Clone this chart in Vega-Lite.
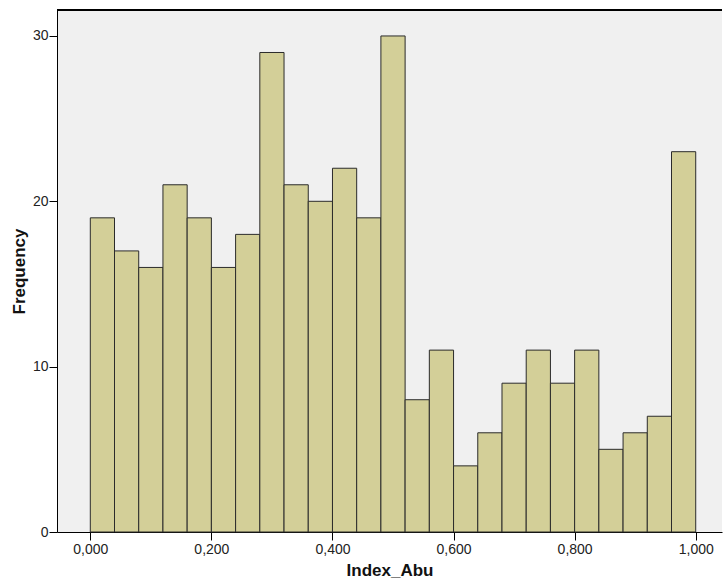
{
  "$schema": "https://vega.github.io/schema/vega-lite/v6.json",
  "autosize": {"type": "none"},
  "width": 665,
  "height": 522,
  "padding": {"left": 57, "top": 10, "right": 2, "bottom": 54},
  "background": "white",
  "config": {
    "view": {"stroke": null, "fill": "#F0F0F0"},
    "font": "Liberation Sans",
    "axis": {
      "labelFont": "Liberation Sans",
      "labelFontSize": 14,
      "labelColor": "#222222",
      "titleFont": "Liberation Sans",
      "titleFontSize": 17,
      "titleFontWeight": "bold",
      "titleColor": "#111111",
      "domainColor": "#000000",
      "tickColor": "#000000",
      "tickSize": 8,
      "grid": false
    }
  },
  "data": {
    "values": [
      {"start": 0.00, "end": 0.04, "count": 19},
      {"start": 0.04, "end": 0.08, "count": 17},
      {"start": 0.08, "end": 0.12, "count": 16},
      {"start": 0.12, "end": 0.16, "count": 21},
      {"start": 0.16, "end": 0.20, "count": 19},
      {"start": 0.20, "end": 0.24, "count": 16},
      {"start": 0.24, "end": 0.28, "count": 18},
      {"start": 0.28, "end": 0.32, "count": 29},
      {"start": 0.32, "end": 0.36, "count": 21},
      {"start": 0.36, "end": 0.40, "count": 20},
      {"start": 0.40, "end": 0.44, "count": 22},
      {"start": 0.44, "end": 0.48, "count": 19},
      {"start": 0.48, "end": 0.52, "count": 30},
      {"start": 0.52, "end": 0.56, "count": 8},
      {"start": 0.56, "end": 0.60, "count": 11},
      {"start": 0.60, "end": 0.64, "count": 4},
      {"start": 0.64, "end": 0.68, "count": 6},
      {"start": 0.68, "end": 0.72, "count": 9},
      {"start": 0.72, "end": 0.76, "count": 11},
      {"start": 0.76, "end": 0.80, "count": 9},
      {"start": 0.80, "end": 0.84, "count": 11},
      {"start": 0.84, "end": 0.88, "count": 5},
      {"start": 0.88, "end": 0.92, "count": 6},
      {"start": 0.92, "end": 0.96, "count": 7},
      {"start": 0.96, "end": 1.00, "count": 23}
    ]
  },
  "layer": [
    {
      "mark": {"type": "bar", "fill": "#D3CF98", "stroke": "#2b2b2b", "strokeWidth": 1},
      "encoding": {
        "x": {
          "field": "start", "type": "quantitative",
          "scale": {"domain": [-0.055, 1.0434], "nice": false, "zero": false},
          "axis": {
            "title": "Index_Abu",
            "values": [0, 0.2, 0.4, 0.6, 0.8, 1.0],
            "labelExpr": "replace(format(datum.value, '.3f'), '.', ',')",
            "labelPadding": 2,
            "titlePadding": 6
          }
        },
        "x2": {"field": "end"},
        "y": {
          "field": "count", "type": "quantitative",
          "scale": {"domain": [0, 31.57], "nice": false, "padding": 0},
          "axis": {
            "title": "Frequency",
            "values": [0, 10, 20, 30],
            "labelPadding": 1,
            "titlePadding": 4
          }
        },
        "y2": {"datum": 0}
      }
    },
    {
      "mark": {"type": "rule", "color": "#000000", "strokeWidth": 1.5},
      "encoding": {"y": {"datum": 31.57}}
    }
  ]
}
